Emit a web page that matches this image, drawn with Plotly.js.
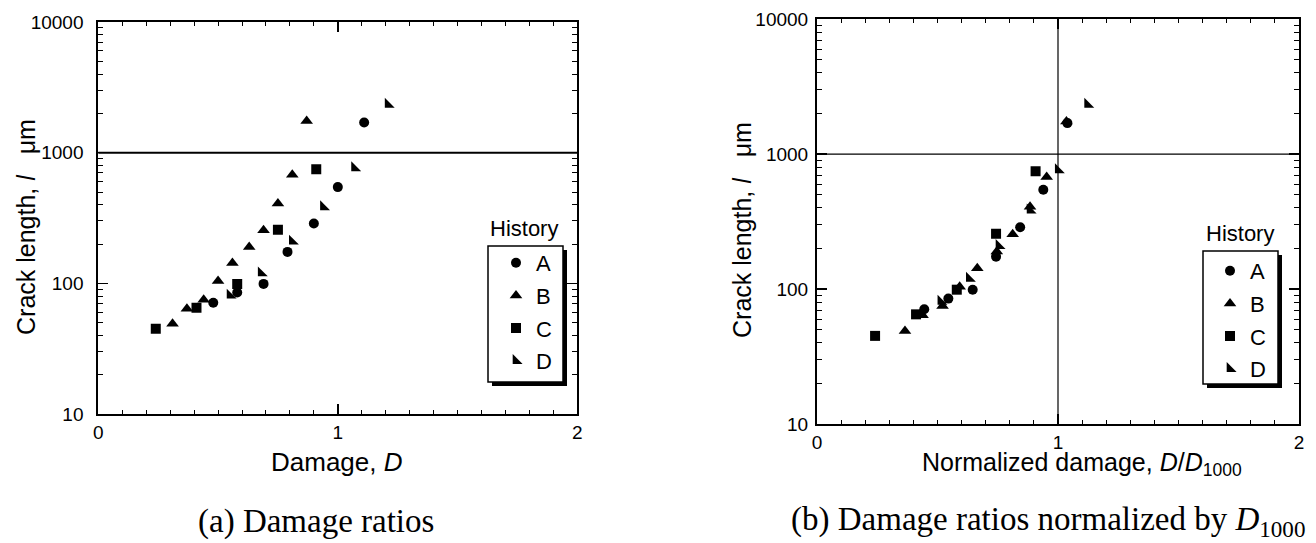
<!DOCTYPE html>
<html><head><meta charset="utf-8">
<script src="https://cdn.plot.ly/plotly-3.0.1.min.js"></script>
<style>html,body{margin:0;padding:0;background:#fff}</style>
</head><body>
<div id="chart" style="width:1316px;height:543px"></div>
<script>
// ---- data ----
const historyNames = ['A', 'B', 'C', 'D'];
const damageA = [0.48, 0.58, 0.69, 0.79, 0.90, 1.00, 1.11];
const damageB = [0.31, 0.37, 0.44, 0.50, 0.56, 0.63, 0.69, 0.75, 0.81, 0.87];
const damageC = [0.24, 0.41, 0.58, 0.75, 0.91];
const damageD = [0.55, 0.68, 0.81, 0.94, 1.07, 1.21];
const normDamageA = [0.445, 0.545, 0.646, 0.743, 0.843, 0.939, 1.039];
const normDamageB = [0.365, 0.438, 0.521, 0.592, 0.665, 0.746, 0.812, 0.884, 0.953, 1.035];
const normDamageC = [0.241, 0.411, 0.580, 0.743, 0.907];
const normDamageD = [0.514, 0.632, 0.755, 0.884, 1.001, 1.123];
const crackA = [71, 85, 99, 174, 287, 545, 1700];
const crackB = [49, 64, 75, 104, 143, 190, 255, 408, 677, 1750];
const crackC = [45, 65, 99, 257, 748];
const crackD = [81, 120, 210, 385, 765, 2340];
const xTickVals = [0, 1, 2];
const xTickText = ['0', '1', '2'];
const yTickVals = [10, 100, 1000, 10000];
const yTickText = ['10', '100', '1000', '10000'];
const yMinorVals = [20,30,40,50,60,70,80,90,200,300,400,500,600,700,800,900,2000,3000,4000,5000,6000,7000,8000,9000];
const refCrack = 1000;
const refNorm = 1;

// ---- helpers ----
const W = 1316, H = 543;
const px = v => v / W;
const py = v => 1 - v / H;
const SANS = 'Liberation Sans, Arial, sans-serif';
const SERIF = 'Liberation Serif, Times New Roman, serif';
const symbols = ['circle', 'triangle-up', 'square', 'triangle-sw'];
const sizes = [10, 11, 10, 11];

const leftX = [damageA, damageB, damageC, damageD];
const rightX = [normDamageA, normDamageB, normDamageC, normDamageD];
const ys = [crackA, crackB, crackC, crackD];

const traces = [];
historyNames.forEach((nm, i) => {
  traces.push({type: 'scatter', mode: 'markers', name: nm, x: leftX[i], y: ys[i],
    xaxis: 'x', yaxis: 'y', legend: 'legend', legendgroup: 'l' + nm,
    marker: {symbol: symbols[i], size: sizes[i], color: '#000', line: {width: 0}}});
});
historyNames.forEach((nm, i) => {
  traces.push({type: 'scatter', mode: 'markers', name: nm, x: rightX[i], y: ys[i],
    xaxis: 'x2', yaxis: 'y2', legend: 'legend2', legendgroup: 'r' + nm,
    marker: {symbol: symbols[i], size: sizes[i], color: '#000', line: {width: 0}}});
});

function xAx(domain, anchor) {
  return {domain, anchor, range: [0, 2], tickmode: 'array', tickvals: xTickVals, ticktext: xTickText,
    ticks: 'inside', ticklen: 10, tickwidth: 1.5, tickcolor: '#000',
    showline: true, linewidth: 2, linecolor: '#000', mirror: 'ticks',
    showgrid: false, zeroline: false, fixedrange: true,
    tickfont: {family: SANS, size: 19, color: '#000'},
    minor: {tickmode: 'linear', tick0: 0, dtick: 0.1, ticks: 'inside', ticklen: 4, tickwidth: 1, tickcolor: '#000', showgrid: false}};
}
function yAx(domain, anchor, standoff) {
  return {domain, anchor, type: 'log', range: [1, 4], tickmode: 'array', tickvals: yTickVals, ticktext: yTickText,
    ticks: 'inside', ticklen: 10, tickwidth: 1.5, tickcolor: '#000',
    showline: true, linewidth: 2, linecolor: '#000', mirror: 'ticks',
    showgrid: false, zeroline: false, fixedrange: true, ticklabelstandoff: standoff,
    tickfont: {family: SANS, size: 19, color: '#000'},
    minor: {tickmode: 'array', tickvals: yMinorVals, ticks: 'inside', ticklen: 5, tickwidth: 1, tickcolor: '#000', showgrid: false}};
}

const legendBase = {bgcolor: 'rgba(0,0,0,0)', borderwidth: 0, font: {family: SANS, size: 22, color: '#000'},
  tracegroupgap: 1, xanchor: 'left', yanchor: 'top', itemclick: false, itemdoubleclick: false};

const boxL = [488, 246, 563, 382];
const boxR = [1203, 251, 1278, 384];
function boxShapes(b) {
  return [
    {type: 'rect', xref: 'paper', yref: 'paper', x0: px(b[0] + 4), x1: px(b[2] + 4), y0: py(b[3] + 4), y1: py(b[1] + 4),
      fillcolor: '#000', line: {width: 0}, layer: 'above'},
    {type: 'rect', xref: 'paper', yref: 'paper', x0: px(b[0]), x1: px(b[2]), y0: py(b[3]), y1: py(b[1]),
      fillcolor: '#fff', line: {color: '#000', width: 1.5}, layer: 'above'}
  ];
}
function ann(text, x, y, size, family, extra) {
  return Object.assign({text, xref: 'paper', yref: 'paper', x: px(x), y: py(y), xanchor: 'center', yanchor: 'middle',
    showarrow: false, font: {family, size, color: '#000'}}, extra || {});
}

const yTitle = 'Crack length, <i>l</i>\u00a0\u00a0\u00a0μm';
const layout = {
  width: W, height: H, margin: {l: 0, r: 0, t: 0, b: 0}, paper_bgcolor: '#fff', plot_bgcolor: '#fff',
  showlegend: true,
  xaxis: xAx([px(98.3), px(577.3)], 'y'),
  yaxis: yAx([py(414), py(22)], 'x', 9),
  xaxis2: xAx([px(817), px(1299)], 'y2'),
  yaxis2: yAx([py(424), py(19.3)], 'x2', 3),
  legend: Object.assign({}, legendBase, {x: px(496), y: py(242)}),
  legend2: Object.assign({}, legendBase, {x: px(1210), y: py(250)}),
  shapes: [
    {type: 'line', xref: 'x domain', yref: 'y', x0: 0, x1: 1, y0: refCrack, y1: refCrack, line: {color: '#000', width: 2}},
    {type: 'line', xref: 'x2 domain', yref: 'y2', x0: 0, x1: 1, y0: refCrack, y1: refCrack, line: {color: '#000', width: 1.2}},
    {type: 'line', xref: 'x2', yref: 'y2 domain', x0: refNorm, x1: refNorm, y0: 0, y1: 1, line: {color: '#000', width: 1.2}}
  ].concat(boxShapes(boxL), boxShapes(boxR)),
  annotations: [
    ann(yTitle, 26, 227, 25, SANS, {textangle: -90}),
    ann(yTitle, 742, 230, 25, SANS, {textangle: -90}),
    ann('Damage, <i>D</i>', 337, 462, 26, SANS),
    ann('Normalized damage, <i>D</i>/<i>D</i><sub>1000</sub>', 1082, 464, 25, SANS),
    ann('(a) Damage ratios', 316, 521, 33, SERIF),
    ann('(b) Damage ratios normalized by <i>D</i><sub>1000</sub>', 1048, 521, 33, SERIF),
    ann('History', 524, 228, 22, SANS),
    ann('History', 1240, 233, 22, SANS)
  ]
};

Plotly.newPlot('chart', traces, layout, {displayModeBar: false, staticPlot: true});
</script>
</body></html>
